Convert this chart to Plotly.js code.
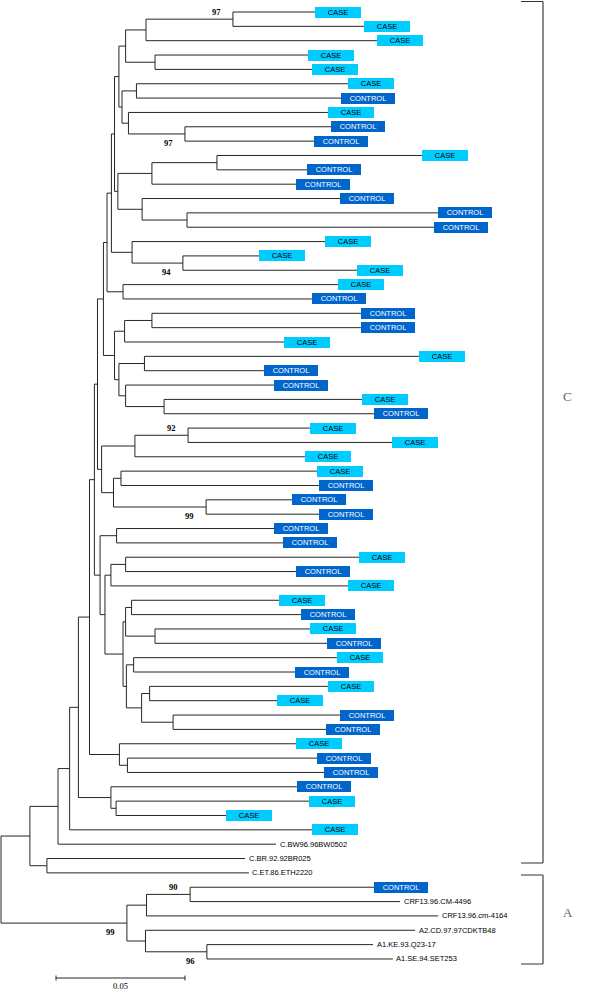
<!DOCTYPE html>
<html><head><meta charset="utf-8">
<script src="https://cdn.plot.ly/plotly-3.0.1.min.js"></script>
<style>html,body{margin:0;padding:0;background:#fff;}#chart{width:600px;height:990px;}</style>
</head><body><div id="chart"></div>
<script>
// ---- DATA ----
// Leaves, top to bottom
const leafLabels = [
"CASE","CASE","CASE","CASE","CASE","CASE","CONTROL","CASE","CONTROL","CONTROL",
"CASE","CONTROL","CONTROL","CONTROL","CONTROL","CONTROL","CASE","CASE","CASE","CASE",
"CONTROL","CONTROL","CONTROL","CASE","CASE","CONTROL","CONTROL","CASE","CONTROL","CASE",
"CASE","CASE","CASE","CONTROL","CONTROL","CONTROL","CONTROL","CONTROL","CASE","CONTROL",
"CASE","CASE","CONTROL","CASE","CONTROL","CASE","CONTROL","CASE","CASE","CONTROL",
"CONTROL","CASE","CONTROL","CONTROL","CONTROL","CASE","CASE","CASE","C.BW96.96BW0502","C.BR.92.92BR025",
"C.ET.86.ETH2220","CONTROL","CRF13.96.CM-4496","CRF13.96.cm-4164","A2.CD.97.97CDKTB48","A1.KE.93.Q23-17","A1.SE.94.SET253"
];
// Distance from root to each leaf (substitutions/site)
const leafDepths = [
0.1217,0.1407,0.1457,0.1190,0.1205,0.1345,0.1318,0.1267,0.1279,0.1213,
0.1632,0.1186,0.1143,0.1314,0.1694,0.1678,0.1256,0.1000,0.1380,0.1306,
0.1205,0.1395,0.1395,0.1097,0.1620,0.1019,0.1058,0.1399,0.1446,0.1198,
0.1516,0.1178,0.1225,0.1233,0.1128,0.1233,0.1058,0.1093,0.1388,0.1143,
0.1345,0.1078,0.1163,0.1198,0.1264,0.1302,0.1140,0.1267,0.1070,0.1314,
0.1260,0.1143,0.1225,0.1252,0.1147,0.1194,0.0872,0.1205,0.1066,0.0946,
0.0961,0.1446,0.1547,0.1694,0.1605,0.1442,0.1519
];
// Internal nodes n1..n66: children (number = leaf index 1-based, string = internal node)
const nodeChildren = [
[1,2],["n1",3],[4,5],["n2","n3"],[6,7],[9,10],[8,"n6"],["n5","n7"],["n4","n8"],[11,12],
["n10",13],[15,16],[14,"n12"],["n11","n13"],["n9","n14"],[18,19],[17,"n16"],["n15","n17"],[20,21],["n18","n19"],
[22,23],["n21",24],[25,26],[28,29],[27,"n24"],["n23","n25"],["n22","n26"],["n20","n27"],[30,31],["n29",32],
[33,34],[35,36],["n31","n32"],["n30","n33"],["n28","n34"],[37,38],[39,40],["n37",41],[42,43],[44,45],
["n39","n40"],[46,47],[48,49],[50,51],["n43","n44"],["n42","n45"],["n41","n46"],["n38","n47"],["n36","n48"],["n35","n49"],
[53,54],[52,"n51"],["n50","n52"],[56,57],[55,"n54"],["n53","n55"],["n56",58],["n57",59],[60,61],["n58","n59"],
[62,63],["n61",64],[66,67],[65,"n63"],["n62","n64"],["n60","n65"]
];
// Distance from root to each internal node
const nodeDepths = [
0.0899,0.0562,0.0597,0.0483,0.0525,0.0713,0.0494,0.0469,0.0457,0.0837,
0.0585,0.0721,0.0547,0.0453,0.0440,0.0705,0.0508,0.0428,0.0473,0.0411,
0.0585,0.0479,0.0556,0.0632,0.0483,0.0457,0.0440,0.0397,0.0725,0.0519,
0.0465,0.0795,0.0436,0.0390,0.0374,0.0448,0.0483,0.0426,0.0506,0.0597,
0.0483,0.0514,0.0576,0.0667,0.0545,0.0486,0.0473,0.0403,0.0384,0.0362,
0.0490,0.0459,0.0343,0.0446,0.0426,0.0300,0.0266,0.0221,0.0178,0.0112,
0.0733,0.0564,0.0798,0.0560,0.0488,0.0000
];
const rootNode = "n66";
const bootstrapNodes = ["n1","n6","n16","n29","n32","n61","n63","n65"];
const bootstrapValues = [97,97,94,92,99,90,96,99];
const bootstrapSide = ["above","below","below","above","below","above","below","below"];
const cladeNames = ["C","A"];
const scaleBarLength = 0.05;
const scaleBarLabel = "0.05";

// ---- LAYOUT CONSTANTS ----
const W = 600, H = 990;
const pxPerUnit = 2580, rootPx = 1;
const leafTopPx = 12, leafStepPx = 14.348;
const xRange = [(0 - rootPx) / pxPerUnit, (W - rootPx) / pxPerUnit];
const yRange = [1 + (H - leafTopPx) / leafStepPx, 1 - leafTopPx / leafStepPx];
const yOfPx = p => 1 + (p - leafTopPx) / leafStepPx;
const caseColor = "#00CCFF", controlColor = "#0066CC";
const lineColor = "#262626";

// ---- BUILD TREE GEOMETRY ----
const cache = {};
function pos(ref) {
  if (typeof ref === "number") return {x: leafDepths[ref - 1], y: ref};
  if (cache[ref]) return cache[ref];
  const k = parseInt(ref.slice(1)) - 1;
  const cs = nodeChildren[k].map(pos);
  const p = {x: nodeDepths[k], y: (cs[0].y + cs[cs.length - 1].y) / 2, kids: cs};
  cache[ref] = p;
  return p;
}
pos(rootNode);
const lx = [], ly = [];
for (let k = 0; k < nodeChildren.length; k++) {
  const p = pos("n" + (k + 1));
  const cs = p.kids;
  lx.push(p.x, p.x, null); ly.push(cs[0].y, cs[cs.length - 1].y, null);
  cs.forEach(c => { lx.push(p.x, c.x, null); ly.push(c.y, c.y, null); });
}

const traces = [{
  type: "scatter", mode: "lines", x: lx, y: ly,
  line: {color: lineColor, width: 1}, hoverinfo: "skip", connectgaps: false
}];

// scale bar
const sbX0 = (56 - rootPx) / pxPerUnit;
const sbY = yOfPx(978);
const tick = 2.5 / leafStepPx;
traces.push({
  type: "scatter", mode: "lines",
  x: [sbX0, sbX0 + scaleBarLength, null, sbX0, sbX0, null, sbX0 + scaleBarLength, sbX0 + scaleBarLength],
  y: [sbY, sbY, null, sbY - tick, sbY + tick, null, sbY - tick, sbY + tick],
  line: {color: lineColor, width: 1}, hoverinfo: "skip"
});

const annotations = [];
leafLabels.forEach((lab, i) => {
  const x = leafDepths[i], y = i + 1;
  if (lab === "CASE" || lab === "CONTROL") {
    const isCase = lab === "CASE";
    annotations.push({
      x, y, xref: "x", yref: "y", text: lab, showarrow: false,
      xanchor: "left", yanchor: "middle",
      width: isCase ? 46 : 54, height: 11, borderpad: 0, borderwidth: 0,
      bgcolor: isCase ? caseColor : controlColor, align: "center", valign: "middle",
      font: {family: "Liberation Sans, Arial, sans-serif", size: 7.5, color: isCase ? "#000" : "#fff"}
    });
  } else {
    annotations.push({
      x, y, xref: "x", yref: "y", text: lab, showarrow: false,
      xanchor: "left", yanchor: "middle", xshift: 1.5,
      font: {family: "Liberation Sans, Arial, sans-serif", size: 7.5, color: "#000"}
    });
  }
});
bootstrapNodes.forEach((n, i) => {
  const p = pos(n);
  const above = bootstrapSide[i] === "above";
  annotations.push({
    x: p.x, y: p.y, xref: "x", yref: "y", text: "<b>" + bootstrapValues[i] + "</b>", showarrow: false,
    xanchor: "right", yanchor: above ? "bottom" : "top", xshift: -10, yshift: above ? 0 : -2,
    font: {family: "Liberation Serif, Times New Roman, serif", size: 8.5, color: "#000"}
  });
});
annotations.push({
  x: sbX0 + scaleBarLength / 2, y: sbY, xref: "x", yref: "y", text: scaleBarLabel, showarrow: false,
  xanchor: "center", yanchor: "top", yshift: -1,
  font: {family: "Liberation Serif, Times New Roman, serif", size: 8.5, color: "#000"}
});
// clade labels
const cladeLabelPx = [[567, 396], [568, 912]];
cladeNames.forEach((c, i) => {
  annotations.push({
    x: cladeLabelPx[i][0] / W, y: 1 - cladeLabelPx[i][1] / H, xref: "paper", yref: "paper",
    text: c, showarrow: false, xanchor: "center", yanchor: "middle",
    font: {family: "Liberation Serif, Times New Roman, serif", size: 13, color: "#666"}
  });
});

// brackets
const brackets = [[1.5, 863], [875, 964]];
const shapes = [];
brackets.forEach(([t, b]) => {
  const xl = 521 / W, xr = 543 / W, yt = 1 - t / H, yb = 1 - b / H;
  shapes.push({type: "line", xref: "paper", yref: "paper", x0: xl, x1: xr, y0: yt, y1: yt, line: {color: "#333", width: 1}});
  shapes.push({type: "line", xref: "paper", yref: "paper", x0: xr, x1: xr, y0: yt, y1: yb, line: {color: "#666", width: 1.5}});
  shapes.push({type: "line", xref: "paper", yref: "paper", x0: xl, x1: xr, y0: yb, y1: yb, line: {color: "#333", width: 1}});
});

const layout = {
  width: W, height: H, margin: {l: 0, r: 0, t: 0, b: 0, pad: 0},
  paper_bgcolor: "#fff", plot_bgcolor: "#fff", showlegend: false, hovermode: false,
  xaxis: {range: xRange, visible: false, fixedrange: true},
  yaxis: {range: yRange, visible: false, fixedrange: true},
  annotations, shapes
};
Plotly.newPlot("chart", traces, layout, {staticPlot: true, displayModeBar: false});
</script></body></html>
